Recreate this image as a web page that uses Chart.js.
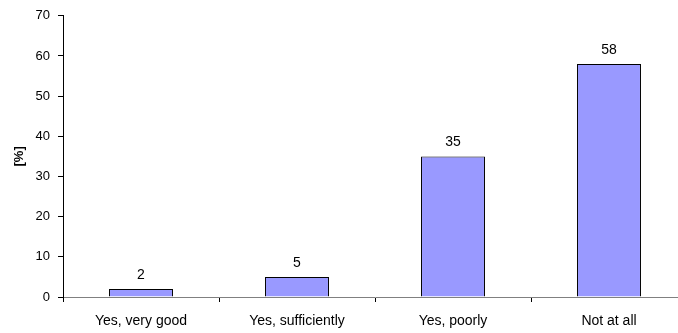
<!DOCTYPE html>
<html>
<head>
<meta charset="utf-8">
<script src="https://cdn.jsdelivr.net/npm/chart.js@4/dist/chart.umd.min.js"></script>
<style>
    html, body { margin: 0; padding: 0; background: #fff; overflow: hidden; }
    #wrap { position: relative; width: 687px; height: 333px; }
</style>
</head>
<body>
<div id="wrap"><canvas id="answerChart"></canvas></div>
<script>
// answer categories and share of respondents (%)
const categories = ['Yes, very good', 'Yes, sufficiently', 'Yes, poorly', 'Not at all'];
const percentages = [2, 5, 35, 58];
const yTicks = [0, 10, 20, 30, 40, 50, 60, 70];

const FONT = '"Liberation Sans", Arial, sans-serif';

// writes the value above each bar
const valueLabels = {
    id: 'valueLabels',
    afterDatasetsDraw(chart) {
        const ctx = chart.ctx;
        const meta = chart.getDatasetMeta(0);
        ctx.save();
        ctx.font = '14px ' + FONT;
        ctx.fillStyle = '#000';
        ctx.textAlign = 'center';
        ctx.textBaseline = 'alphabetic';
        meta.data.forEach((bar, i) => {
            ctx.fillText(String(percentages[i]), bar.x, bar.y - 10);
        });
        ctx.restore();
    }
};

function initAnswerChart() {
    const ctx = document.getElementById('answerChart');
    if (!ctx) return;

    new Chart(ctx, {
        type: 'bar',
        data: {
            labels: categories,
            datasets: [{
                data: percentages,
                backgroundColor: '#9999ff',
                borderColor: '#000',
                borderWidth: 1,
                barPercentage: 0.41,
                categoryPercentage: 1,
            }],
        },
        options: {
            responsive: true,
            maintainAspectRatio: false,
            animation: false,
            layout: { padding: { top: 15, left: 0, right: 0, bottom: 0 } },
            plugins: {
                legend: { display: false },
                tooltip: { enabled: false },
            },
            scales: {
                x: {
                    afterFit(scale) { scale.height = 36; },
                    grid: {
                        offset: true,
                        drawOnChartArea: false,
                        drawTicks: true,
                        tickLength: 5,
                        tickColor: '#000',
                    },
                    border: { color: '#808080', width: 1 },
                    ticks: {
                        maxRotation: 0,
                        autoSkip: false,
                        padding: 11,
                        color: '#000',
                        font: { family: FONT, size: 14 },
                    },
                },
                y: {
                    min: 0,
                    max: 70,
                    afterFit(scale) { scale.width = 63; },
                    afterBuildTicks(scale) {
                        scale.ticks = yTicks.map(v => ({ value: v }));
                    },
                    grid: {
                        drawOnChartArea: false,
                        drawTicks: true,
                        tickLength: 5,
                        tickColor: '#000',
                    },
                    border: { color: '#000', width: 1 },
                    ticks: {
                        padding: 8,
                        color: '#000',
                        font: { family: FONT, size: 13 },
                    },
                    title: {
                        display: true,
                        text: '[%]',
                        color: '#000',
                        padding: { top: 12, bottom: 0 },
                        font: { family: FONT, size: 13, weight: 'bold' },
                    },
                },
            },
        },
        plugins: [valueLabels],
    });
}

document.addEventListener('DOMContentLoaded', initAnswerChart);
</script>
</body>
</html>
